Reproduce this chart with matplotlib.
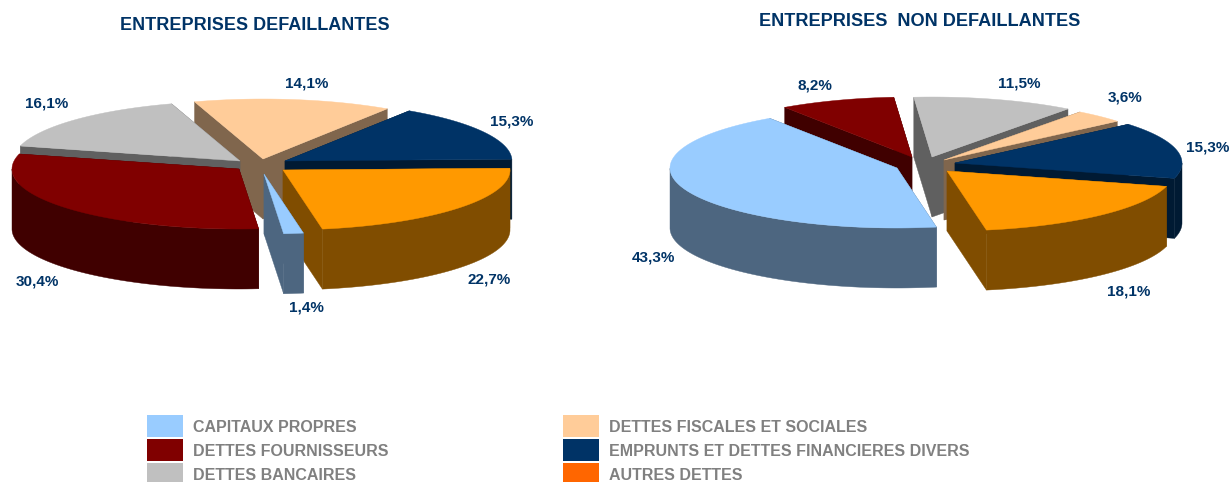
import numpy as np
import matplotlib
matplotlib.use("Agg")
import matplotlib.pyplot as plt
from matplotlib.patches import Polygon, Rectangle

plt.rcParams["font.family"] = ["Liberation Sans", "DejaVu Sans"]

W, H = 1231, 482
NAVY = "#003366"
GREY = "#808080"

# slices in clockwise order, starting just right of the bottom
colors = ["#99CCFF", "#800000", "#C0C0C0", "#FFCC99", "#003366", "#FF9900"]
left_values = [1.4, 30.4, 16.1, 14.1, 15.3, 22.7]
right_values = [43.3, 8.2, 11.5, 3.6, 15.3, 18.1]
left_labels = ["1,4%", "30,4%", "16,1%", "14,1%", "15,3%", "22,7%"]
right_labels = ["43,3%", "8,2%", "11,5%", "3,6%", "15,3%", "18,1%"]

# tip of each exploded slice, in pixels
left_tips = [(264, 174), (239, 169), (240, 161), (263, 159), (285, 161), (283, 170)]
right_tips = [(897, 168), (912, 157), (932, 157), (944, 160), (955, 163), (947, 171)]
left_label_pos = [(306, 308), (37, 282), (47, 104), (307, 83), (512, 121), (489, 280)]
right_label_pos = [(653, 258), (815, 85), (1019, 84), (1125, 98), (1208, 147), (1129, 292)]

legend_left = ["CAPITAUX PROPRES", "DETTES FOURNISSEURS", "DETTES BANCAIRES"]
legend_left_colors = ["#99CCFF", "#800000", "#C0C0C0"]
legend_right = ["DETTES FISCALES ET SOCIALES", "EMPRUNTS ET DETTES FINANCIERES DIVERS", "AUTRES DETTES"]
legend_right_colors = ["#FFCC99", "#003366", "#FF6600"]

RX, RY, DEPTH = 227, 60, 60
START = -10


def shade(color, k=0.5):
    rgb = np.array(matplotlib.colors.to_rgb(color))
    return tuple(rgb * k)


def rim(tip, t):
    t = np.radians(t)
    return np.column_stack([tip[0] - RX * np.sin(t), tip[1] + RY * np.cos(t)])


def draw_pie(ax, values, tips):
    sweep = np.array(values) / sum(values) * 360
    ends = START + np.cumsum(sweep)
    starts = ends - sweep
    order = np.argsort(np.cos(np.radians((starts + ends) / 2)))
    for i in order:
        tip = np.array(tips[i], dtype=float)
        ts = np.linspace(starts[i], ends[i], 400)
        arc = rim(tip, ts)
        down = np.array([0, DEPTH])
        side = shade(colors[i])
        for edge in (arc[0], arc[-1]):
            quad = [tip, edge, edge + down, tip + down]
            ax.add_patch(Polygon(quad, fc=side, ec=side, lw=0.3))
        # only the front part of the rim shows
        front = arc[np.cos(np.radians(ts)) >= 0]
        if len(front) > 1:
            wall = np.vstack([front, (front + down)[::-1]])
            ax.add_patch(Polygon(wall, fc=side, ec=side, lw=0.3))
        top = np.vstack([tip, arc])
        ax.add_patch(Polygon(top, fc=colors[i], ec=colors[i], lw=0.3))


fig = plt.figure(figsize=(W / 100, H / 100), dpi=100)
ax = fig.add_axes([0, 0, 1, 1])
ax.set_xlim(0, W)
ax.set_ylim(H, 0)
ax.axis("off")

draw_pie(ax, left_values, left_tips)
draw_pie(ax, right_values, right_tips)

for labels, positions in ((left_labels, left_label_pos), (right_labels, right_label_pos)):
    for text, (x, y) in zip(labels, positions):
        ax.text(x, y, text, color=NAVY, fontsize=11, fontweight="bold", ha="center", va="center")

ax.text(254.5, 25, "ENTREPRISES DEFAILLANTES", color=NAVY, fontsize=13, fontweight="bold",
        ha="center", va="center")
ax.text(920, 21, "ENTREPRISES  NON DEFAILLANTES", color=NAVY, fontsize=13.1, fontweight="bold",
        ha="center", va="center")

rows = [427, 451, 475]
for x, names, swatches in ((147, legend_left, legend_left_colors), (563, legend_right, legend_right_colors)):
    for y, name, c in zip(rows, names, swatches):
        ax.add_patch(Rectangle((x, y - 12), 36, 22, fc=c, ec="none"))
        ax.text(x + 46, y, name, color=GREY, fontsize=11.5, fontweight="bold", ha="left", va="center")

fig.savefig("out.png", dpi=100)
